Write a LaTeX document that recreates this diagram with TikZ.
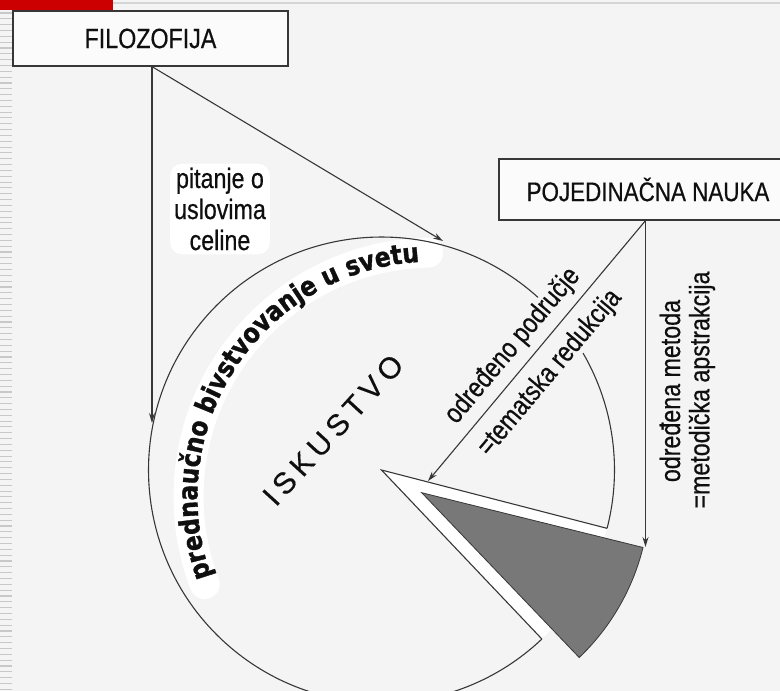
\documentclass[tikz,border=0pt]{standalone}
\usepackage{fontspec}
\setmainfont{Liberation Sans}
\newfontfamily\narrowf[FakeStretch=0.83,FakeBold=0.5]{Liberation Sans}
\newfontfamily\dvb[FakeStretch=0.865,FakeBold=1.2]{DejaVu Sans}
\newfontfamily\thinf[FakeBold=0.3]{Liberation Sans}
\usetikzlibrary{arrows.meta,calc,decorations.text}
\definecolor{bgc}{RGB}{244,244,244}
\definecolor{linec}{RGB}{55,55,55}
\definecolor{txtc}{RGB}{15,15,15}
\definecolor{sectorc}{RGB}{120,120,120}
\definecolor{redbar}{RGB}{204,0,0}
\definecolor{stripec}{RGB}{200,200,200}
\begin{document}
\begin{tikzpicture}[x=1pt,y=1pt,
  conn/.style={draw=linec,line width=1.1pt,-{Stealth[length=10pt,width=6pt]}},
  edge/.style={draw=linec,line width=1.1pt},
  titlebox/.style={draw=linec,line width=1.2pt,fill=white!60!bgc,inner sep=0pt,text=txtc},
  lbl/.style={text=txtc,font=\narrowf\fontsize{28}{31}\selectfont,inner sep=1pt}]
\useasboundingbox (0,0) rectangle (780,-691);
\fill[bgc] (0,0) rectangle (780,-691);
% slide template decorations
\fill[redbar] (0,0) rectangle (113,-9.5);
\draw[stripec!70!bgc,line width=2pt] (113,-3) -- (780,-3);
\foreach \k in {0,...,116}{\draw[stripec,line width=1.1pt] (0,-13-5.83*\k) -- (12,-13-5.83*\k);}
% geometry
\coordinate (C) at (381.5,-470);
\coordinate (T) at (432.5,-496.6);
\coordinate (G) at (421.7,-492.7);
\coordinate (Pu) at ($(C)+(-14.5:233)$);
\coordinate (Pl) at ($(C)+(-46.5:233)$);
% white band behind curved text
\draw[white,line width=30pt,line cap=round] ($(T)+(201:244)$) arc[start angle=201,end angle=91,radius=244];
% boxes
\node[titlebox,minimum width=275pt,minimum height=55pt,font=\narrowf\fontsize{28}{30}\selectfont] (filo) at (150.5,-38.5) {FILOZOFIJA};
\node[titlebox,minimum width=298pt,minimum height=61pt,font=\narrowf\fontsize{27}{30}\selectfont] (nauka) at (648,-189.5) {POJEDINAČNA NAUKA};
% removed wedge and displaced sector
\fill[white] (C) -- (Pu) arc[start angle=-14.5,end angle=-46.5,radius=233] -- cycle;
\filldraw[fill=sectorc,draw=linec,line width=0.8pt] (G) -- ($(G)+(-13.9:228)$) arc[start angle=-13.9,end angle=-46.3,radius=228] -- cycle;
% circle of experience
\draw[edge] ($(C)+(47.8:233)$) arc[start angle=47.8,end angle=313.5,radius=233];
\draw[edge] (Pu) arc[start angle=-14.5,end angle=30.1,radius=233];
\draw[edge] (Pu) -- (C) -- (Pl);
% curved text
\path[decorate,decoration={text along path,text align=center,
  text={|\dvb\bfseries\fontsize{27}{27}\selectfont\color{txtc}|prednaučno bivstvovanje u svetu}}]
  ($(T)+(205:235)$) arc[start angle=205,end angle=88,radius=235];
% arrow end points
\coordinate (fA) at (152,-423);
\coordinate (fB) at (443,-241);
\coordinate (pA) at (645.5,-547);
\coordinate (pB) at (428,-481);
\draw[conn] ([xshift=1.5pt]filo.south) -- (fA);
\draw[conn] ([xshift=1.5pt]filo.south) -- (fB);
\draw[conn] ([xshift=-2.5pt]nauka.south) -- (pA);
\draw[conn] ([xshift=-2.5pt]nauka.south) -- (pB);
% labels
\node[lbl,align=center,fill=white,rounded corners=12pt,inner sep=4pt] (q) at (220,-209) {pitanje o\\uslovima\\celine};
\node[text=txtc,font=\thinf\fontsize{30}{30}\selectfont\addfontfeature{LetterSpace=19},rotate=47.5] (isk) at (333,-430) {ISKUSTVO};
\node[lbl,rotate=50] (od1) at (513,-346) {određeno područje};
\node[lbl,rotate=50] (od2) at (550,-373) {=tematska redukcija};
\node[lbl,rotate=90] (om1) at (670,-391) {određena metoda};
\node[lbl,rotate=90] (om2) at (702,-390) {=metodička apstrakcija};
\end{tikzpicture}
\end{document}
